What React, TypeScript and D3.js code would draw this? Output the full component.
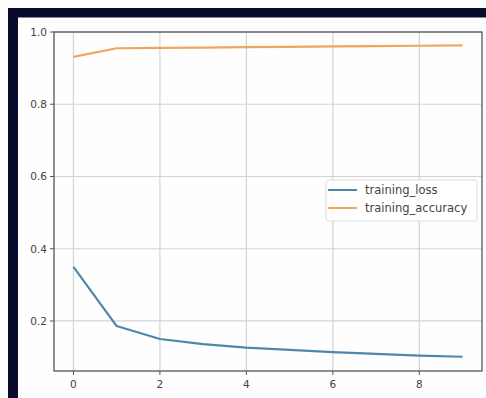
import React from "react";
import * as d3 from "d3";

const epochs = [0, 1, 2, 3, 4, 5, 6, 7, 8, 9];
const trainingLoss = [0.35, 0.186, 0.15, 0.136, 0.126, 0.12, 0.114, 0.109, 0.104, 0.101];
const trainingAccuracy = [0.931, 0.955, 0.956, 0.957, 0.958, 0.959, 0.96, 0.961, 0.962, 0.963];
const xTicks = [0, 2, 4, 6, 8];
const yTicks = [0.2, 0.4, 0.6, 0.8, 1.0];
const seriesNames = ["training_loss", "training_accuracy"];

const W = 486;
const H = 398;
const left = 54, right = 482, top = 32, bottom = 371;
const lossColor = "#4f87a9";
const accColor = "#f0a65e";
const font = "DejaVu Sans, sans-serif";

export default function App() {
  const x = d3.scaleLinear().domain([-0.45, 9.45]).range([left, right]);
  const y = d3.scaleLinear().domain([0.0615, 1.0]).range([bottom, top]);
  const line = d3
    .line<[number, number]>()
    .x((d) => x(d[0]))
    .y((d) => y(d[1]));
  const lossPts = epochs.map((e, i) => [e, trainingLoss[i]] as [number, number]);
  const accPts = epochs.map((e, i) => [e, trainingAccuracy[i]] as [number, number]);
  const colors = [lossColor, accColor];

  return (
    <svg
      width={W}
      height={H}
      style={{ position: "fixed", left: 0, top: 0, background: "#fff" }}
    >
      <rect x={0} y={0} width={W} height={H} fill="#fefefe" />
      <rect x={8} y={8} width={W - 8} height={9.5} fill="#0a0a2c" />
      <rect x={8} y={8} width={10} height={H - 8} fill="#0a0a2c" />
      {/* grid */}
      {xTicks.map((t) => (
        <line key={"gx" + t} x1={x(t)} x2={x(t)} y1={top} y2={bottom} stroke="#d3d3d3" strokeWidth={1.2} />
      ))}
      {yTicks.map((t) => (
        <line key={"gy" + t} x1={left} x2={right} y1={y(t)} y2={y(t)} stroke="#d3d3d3" strokeWidth={1.2} />
      ))}
      {/* lines */}
      <path d={line(lossPts) || ""} fill="none" stroke={lossColor} strokeWidth={2.2} strokeLinejoin="round" />
      <path d={line(accPts) || ""} fill="none" stroke={accColor} strokeWidth={2.2} strokeLinejoin="round" />
      {/* frame */}
      <rect x={left} y={top} width={right - left} height={bottom - top} fill="none" stroke="#555" strokeWidth={1.3} />
      {/* ticks */}
      {xTicks.map((t) => (
        <g key={"xt" + t}>
          <line x1={x(t)} x2={x(t)} y1={bottom} y2={bottom + 4} stroke="#555" />
          <text x={x(t)} y={bottom + 17} textAnchor="middle" fontSize={10.5} fontFamily={font} fill="#444">
            {t}
          </text>
        </g>
      ))}
      {yTicks.map((t) => (
        <g key={"yt" + t}>
          <line x1={left - 4} x2={left} y1={y(t)} y2={y(t)} stroke="#555" />
          <text x={left - 7} y={y(t) + 3.8} textAnchor="end" fontSize={10.5} fontFamily={font} fill="#444">
            {t.toFixed(1)}
          </text>
        </g>
      ))}
      {/* legend */}
      <rect x={326} y={180} width={151} height={41} rx={3} fill="#fff" fillOpacity={0.85} stroke="#ddd" />
      {seriesNames.map((n, i) => (
        <g key={n}>
          <line x1={328} x2={357} y1={190 + i * 18} y2={190 + i * 18} stroke={colors[i]} strokeWidth={2} />
          <text x={365} y={190 + i * 18 + 4} fontSize={11.5} fontFamily={font} fill="#444">
            {n}
          </text>
        </g>
      ))}
    </svg>
  );
}
